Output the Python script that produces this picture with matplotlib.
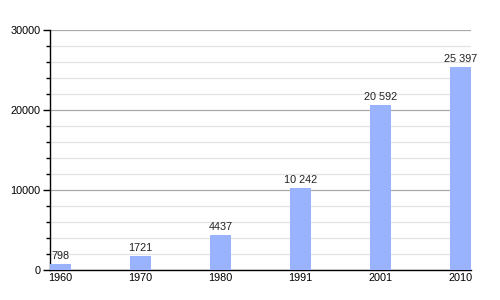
import numpy as np
import matplotlib.pyplot as plt
from matplotlib.ticker import MultipleLocator

years = ['1960', '1970', '1980', '1991', '2001', '2010']
population = [798, 1721, 4437, 10242, 20592, 25397]
bar_labels = ['798', '1721', '4437', '10 242', '20 592', '25 397']

plt.rcParams['font.family'] = ['Liberation Sans', 'DejaVu Sans']

fig = plt.figure(figsize=(5, 3), dpi=100)
ax = fig.add_axes([0.1, 0.1, 0.842, 0.8])

x = np.arange(len(years))
width = 0.26
ax.bar(x, population, width=width, color='#99b3ff', zorder=3)

for xi, val, lab in zip(x, population, bar_labels):
    ax.annotate(lab, (xi, val), xytext=(0, 2), textcoords='offset points',
                ha='center', va='bottom', fontsize=7.8, color='#222222')

ax.set_xlim(-width / 2, len(years) - 1 + width / 2)
ax.set_ylim(0, 30000)
ax.set_xticks(x)
ax.set_xticklabels(years)
ax.yaxis.set_major_locator(MultipleLocator(10000))
ax.yaxis.set_minor_locator(MultipleLocator(2000))

ax.grid(which='major', axis='y', color='#aaaaaa', linewidth=0.9, zorder=0)
ax.grid(which='minor', axis='y', color='#e2e2e2', linewidth=0.9, zorder=0)

for side in ['top', 'right']:
    ax.spines[side].set_visible(False)
ax.spines['left'].set_linewidth(1)
ax.spines['bottom'].set_linewidth(1)

ax.tick_params(axis='y', which='major', length=5, width=1, labelsize=7.8, pad=2)
ax.tick_params(axis='y', which='minor', length=3, width=1)
ax.tick_params(axis='x', length=0, labelsize=7.8, pad=2)

plt.savefig('out.png', dpi=100)
